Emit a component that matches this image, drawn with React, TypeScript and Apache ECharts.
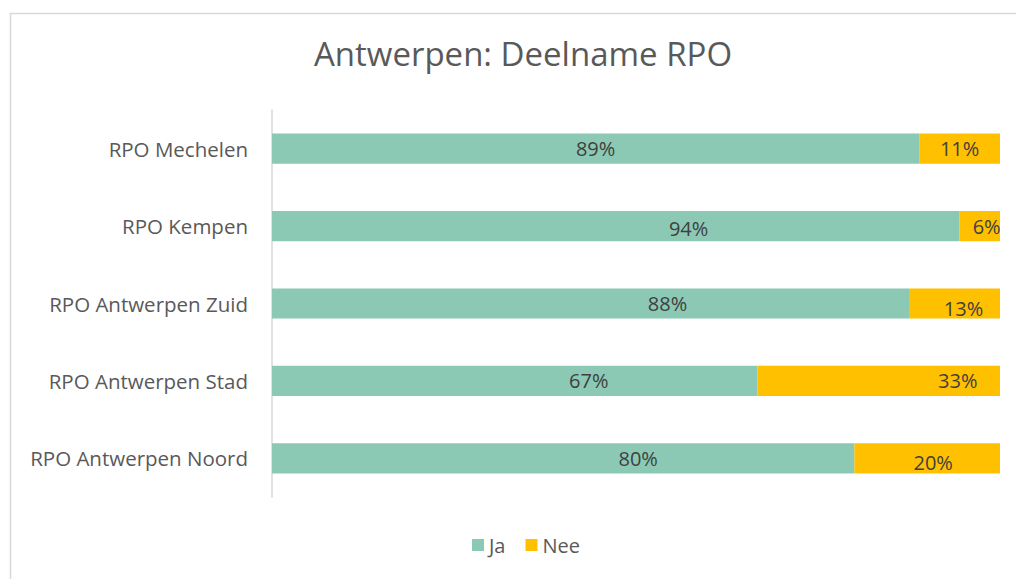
import React, { useEffect, useRef } from "react";
import * as echarts from "echarts";

const categories = [
  "RPO Mechelen",
  "RPO Kempen",
  "RPO Antwerpen Zuid",
  "RPO Antwerpen Stad",
  "RPO Antwerpen Noord",
];
const jaValues = [88.9, 94.4, 87.5, 66.7, 80];
const neeValues = [11.1, 5.6, 12.5, 33.3, 20];
const seriesNames = ["Ja", "Nee"];

// label nudges seen in the reference (style only)
const jaLabelShift = [[0, 0], [73, 2], [77, 0], [74, 0], [75, 0]];
const neeLabelShift = [[0, 0], [7, 0], [9, 5], [79, 0], [6, 4]];

const GREEN = "#8BC9B4";
const YELLOW = "#FFC000";
const FONT = "'Open Sans', 'Noto Sans', sans-serif";

export default function App() {
  const ref = useRef<HTMLDivElement>(null);
  useEffect(() => {
    if (!ref.current) return;
    const chart = echarts.init(ref.current, null, { renderer: "svg" });
    const mk = (vals: number[], shifts: number[][]) =>
      vals.map((v, i) => ({
        value: v,
        label: { offset: shifts[i] },
      }));
    chart.setOption({
      animation: false,
      backgroundColor: "#ffffff",
      textStyle: { fontFamily: FONT },
      title: {
        text: "Antwerpen: Deelname RPO",
        left: 518,
        textAlign: "center",
        top: 32,
        textStyle: { fontFamily: FONT, fontSize: 33, fontWeight: "normal", color: "#595959" },
      },
      graphic: [
        {
          type: "rect",
          shape: { x: 10.5, y: 13.5, width: 1200, height: 800 },
          style: { fill: "none", stroke: "#d9d9d9", lineWidth: 1.5 },
          silent: true,
          z: -1,
        },
      ],
      legend: {
        data: seriesNames,
        left: 467,
        top: 530,
        itemWidth: 12,
        itemHeight: 12,
        itemGap: 20,
        icon: "rect",
        textStyle: { fontFamily: FONT, fontSize: 20, color: "#595959" },
      },
      grid: { left: 272, right: 16, top: 110, bottom: 82, containLabel: false },
      xAxis: {
        type: "value",
        min: 0,
        max: 100,
        show: false,
      },
      yAxis: {
        type: "category",
        data: categories,
        inverse: true,
        axisLine: { show: true, lineStyle: { color: "#d9d9d9", width: 1.5 } },
        axisTick: { show: false },
        axisLabel: { margin: 24, fontFamily: FONT, fontSize: 20.5, color: "#595959" },
      },
      series: [
        {
          name: "Ja",
          type: "bar",
          stack: "total",
          barWidth: "39%",
          itemStyle: { color: GREEN },
          label: {
            show: true,
            position: "inside",
            fontFamily: FONT,
            fontSize: 20,
            color: "#404040",
            formatter: (p: any) => Math.round(p.value) + "%",
          },
          data: mk(jaValues, jaLabelShift),
        },
        {
          name: "Nee",
          type: "bar",
          stack: "total",
          barWidth: "39%",
          itemStyle: { color: YELLOW },
          label: {
            show: true,
            position: "inside",
            fontFamily: FONT,
            fontSize: 20,
            color: "#404040",
            formatter: (p: any) => Math.round(p.value) + "%",
          },
          data: mk(neeValues, neeLabelShift),
        },
      ],
    });
    return () => chart.dispose();
  }, []);
  return (
    <div
      ref={ref}
      style={{ position: "absolute", left: 0, top: 0, width: 1016, height: 579 }}
    />
  );
}
